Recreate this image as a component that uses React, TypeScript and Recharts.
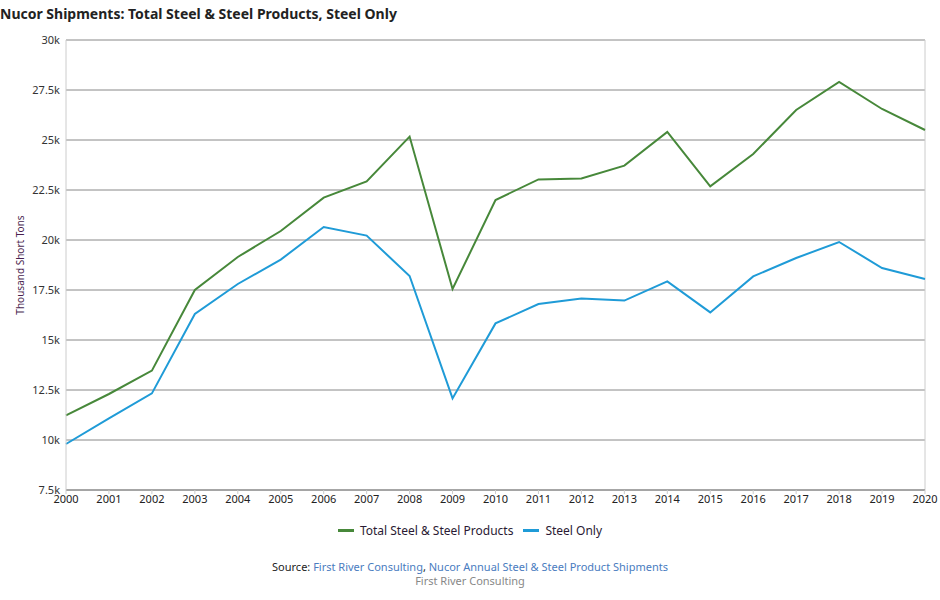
import React from 'react';
import { LineChart, Line, XAxis, YAxis, CartesianGrid, ReferenceLine } from 'recharts';

const years = [
  '2000', '2001', '2002', '2003', '2004', '2005', '2006', '2007', '2008', '2009', '2010',
  '2011', '2012', '2013', '2014', '2015', '2016', '2017', '2018', '2019', '2020',
];

const totalSteelProducts = [
  11230, 12300, 13470, 17500, 19150, 20450, 22120, 22930, 25170, 17550, 22000,
  23030, 23080, 23720, 25400, 22680, 24300, 26500, 27900, 26550, 25500,
];

const steelOnly = [
  9800, 11080, 12330, 16300, 17800, 19020, 20650, 20220, 18200, 12080, 15830,
  16800, 17080, 16970, 17930, 16380, 18180, 19100, 19900, 18600, 18050,
];

const yTicks = [7500, 10000, 12500, 15000, 17500, 20000, 22500, 25000, 27500, 30000];

const GREEN = '#47883a';
const BLUE = '#1f9bd7';
const FONT = '"Noto Sans", "Open Sans", sans-serif';

const data = years.map((year, i) => ({
  year,
  total: totalSteelProducts[i],
  steel: steelOnly[i],
}));

const formatK = (v: number) => `${v / 1000}k`;

const App: React.FC = () => {
  return (
    <div style={{ position: 'absolute', left: 0, top: 0, width: 940, height: 600, fontFamily: FONT, background: '#fff' }}>
      <div style={{ position: 'absolute', left: 0, top: 4, fontSize: 14, fontWeight: 700, color: '#222', whiteSpace: 'nowrap' }}>
        Nucor Shipments: Total Steel &amp; Steel Products, Steel Only
      </div>

      <LineChart width={940} height={600} data={data} margin={{ top: 40, right: 15, left: 10, bottom: 80 }}>
        <CartesianGrid horizontal vertical={false} stroke="#888" />
        <XAxis
          dataKey="year"
          height={30}
          interval={0}
          tick={{ fill: '#222', fontSize: 11, fontFamily: FONT }}
          tickSize={4}
          tickMargin={1}
          axisLine={{ stroke: '#888' }}
          tickLine={{ stroke: '#ccc' }}
        />
        <YAxis
          width={56}
          domain={[7500, 30000]}
          ticks={yTicks}
          tickFormatter={formatK}
          tick={{ fill: '#333', fontSize: 11, fontFamily: FONT }}
          tickSize={0}
          tickMargin={6}
          axisLine={{ stroke: '#ccc' }}
          tickLine={false}
          label={{
            value: 'Thousand Short Tons',
            angle: -90,
            position: 'insideLeft',
            offset: 10,
            style: { fill: '#4a1f4f', fontSize: 10, fontFamily: FONT, textAnchor: 'middle' },
          }}
        />
        <ReferenceLine x="2020" stroke="#ccc" />
        <Line type="linear" dataKey="total" name="Total Steel & Steel Products" stroke={GREEN} strokeWidth={2} dot={false} isAnimationActive={false} />
        <Line type="linear" dataKey="steel" name="Steel Only" stroke={BLUE} strokeWidth={2} dot={false} isAnimationActive={false} />
      </LineChart>

      <div style={{ position: 'absolute', left: 0, width: 940, top: 522, display: 'flex', justifyContent: 'center', fontSize: 12, color: '#2a1a33' }}>
        <span style={{ display: 'flex', alignItems: 'center', marginRight: 10 }}>
          <span style={{ display: 'inline-block', width: 16, height: 3, background: GREEN, marginRight: 6 }} />
          Total Steel &amp; Steel Products
        </span>
        <span style={{ display: 'flex', alignItems: 'center' }}>
          <span style={{ display: 'inline-block', width: 16, height: 3, background: BLUE, marginRight: 6 }} />
          Steel Only
        </span>
      </div>

      <div style={{ position: 'absolute', left: 0, width: 940, top: 560, textAlign: 'center', fontSize: 11, lineHeight: '14px' }}>
        <div>
          <span style={{ color: '#222' }}>Source: </span>
          <span style={{ color: '#4a7cc0' }}>First River Consulting</span>
          <span style={{ color: '#222' }}>, </span>
          <span style={{ color: '#4a7cc0' }}>Nucor Annual Steel &amp; Steel Product Shipments</span>
        </div>
        <div style={{ color: '#888' }}>First River Consulting</div>
      </div>
    </div>
  );
};

export default App;
